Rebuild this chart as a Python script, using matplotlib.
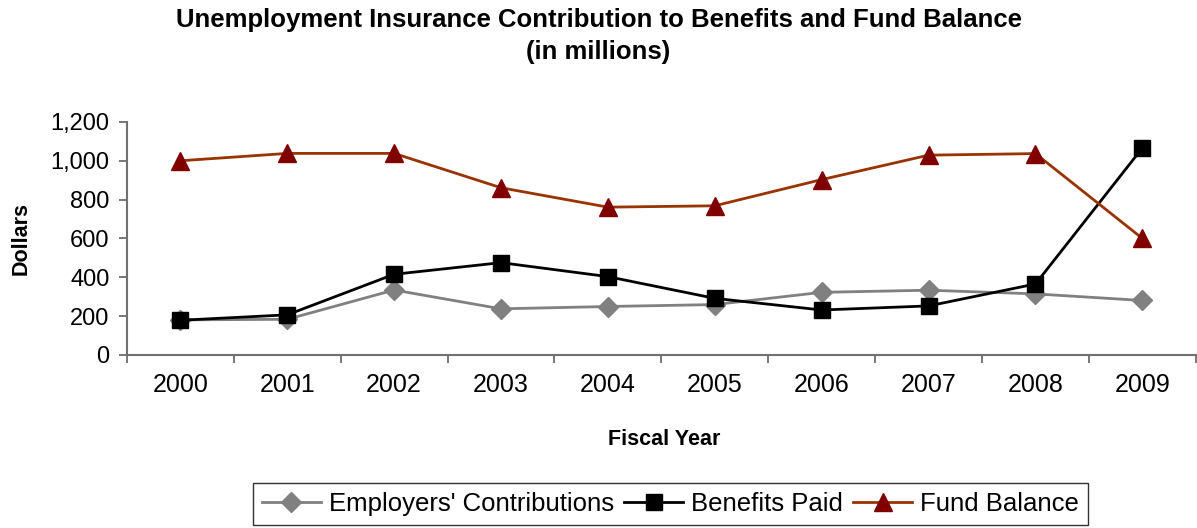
import matplotlib
matplotlib.use("Agg")
import matplotlib.pyplot as plt
import numpy as np

years = ["2000", "2001", "2002", "2003", "2004", "2005", "2006", "2007", "2008", "2009"]
employers = [180, 183, 334, 237, 249, 259, 322, 333, 314, 280]
benefits = [178, 206, 415, 475, 403, 291, 231, 252, 365, 1066]
fund = [1000, 1038, 1038, 861, 761, 768, 903, 1029, 1037, 600]

plt.rcParams['font.family'] = ['Liberation Sans', 'DejaVu Sans']

fig = plt.figure(figsize=(11.97, 5.28), dpi=100)
ax = fig.add_axes([0.106, 0.328, 0.893, 0.441])

x = np.arange(len(years))
ax.plot(x, employers, color='#808080', lw=2, marker='D', markersize=10,
        markerfacecolor='#808080', markeredgecolor='#808080', label="Employers' Contributions", zorder=3)
ax.plot(x, benefits, color='black', lw=2, marker='s', markersize=12,
        markerfacecolor='black', markeredgecolor='black', label="Benefits Paid", zorder=4)
ax.plot(x, fund, color='#993300', lw=2, marker='^', markersize=13,
        markerfacecolor='#800000', markeredgecolor='#800000', label="Fund Balance", zorder=5)

ax.set_xlim(-0.5, len(years) - 0.5)
ax.set_ylim(0, 1200)
ax.set_yticks(np.arange(0, 1201, 200))
ax.set_yticklabels([f"{v:,}" for v in range(0, 1201, 200)])
ax.set_xticks(x)
ax.set_xticklabels(years)
ax.set_xticks(np.arange(-0.5, len(years), 1.0), minor=True)
ax.tick_params(axis='x', which='major', length=0, pad=13, labelsize=18)
ax.tick_params(axis='x', which='minor', length=5.5, width=1.2, color='#606060', direction='out')
ax.tick_params(axis='y', length=5.5, width=1.2, color='#606060', direction='out', labelsize=17, pad=7)

for s in ['top', 'right']:
    ax.spines[s].set_visible(False)
for s in ['left', 'bottom']:
    ax.spines[s].set_color('#707070')
    ax.spines[s].set_linewidth(1.5)

ax.set_ylabel("Dollars", fontsize=15.5, fontweight='bold')
ax.yaxis.set_label_coords(-0.099, 0.5)
ax.set_xlabel("Fiscal Year", fontsize=15.5, fontweight='bold')
ax.xaxis.set_label_coords(0.503, -0.362)
ax.xaxis.label.set_va('center')
ax.yaxis.label.set_va('center')

fig.text(0.5, 0.962, "Unemployment Insurance Contribution to Benefits and Fund Balance",
         ha='center', va='center', fontsize=18.5, fontweight='bold')
fig.text(0.5, 0.902, "(in millions)", ha='center', va='center', fontsize=18.5, fontweight='bold')

leg = fig.legend(loc='upper center', bbox_to_anchor=(0.560, 0.086), ncol=3, fontsize=18.5,
                 frameon=True, fancybox=False, edgecolor='black', handlelength=2.3,
                 handletextpad=0.3, columnspacing=0.4, borderpad=0.35, borderaxespad=0)
leg.get_frame().set_linewidth(1.0)

fig.savefig("out.png", dpi=100)
